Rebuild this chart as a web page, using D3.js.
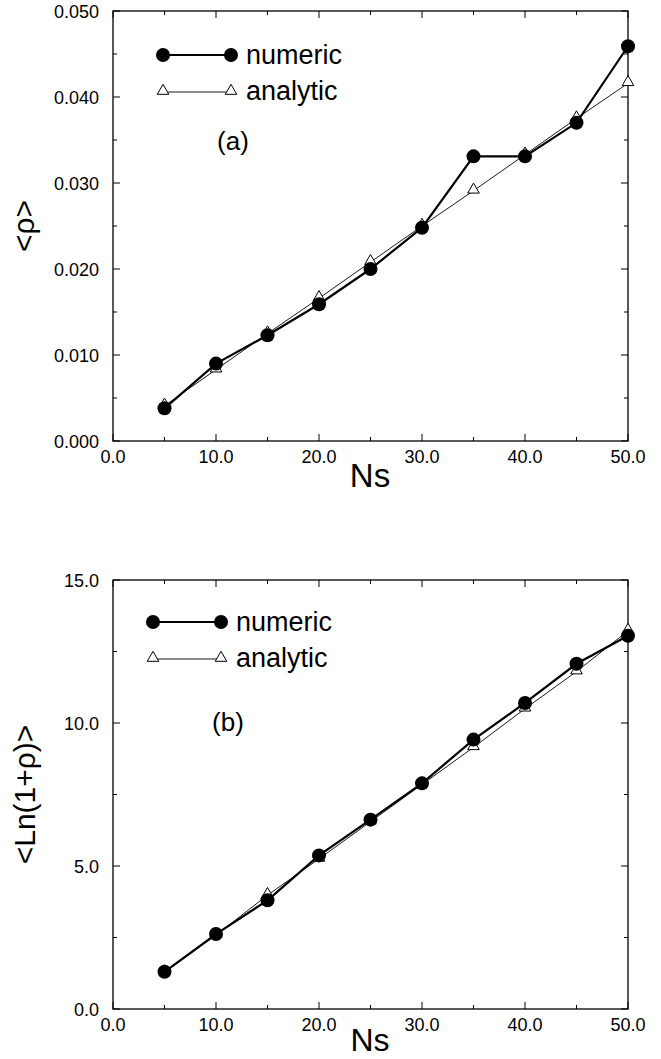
<!DOCTYPE html>
<html>
<head>
<meta charset="utf-8">
<script src="https://cdn.jsdelivr.net/npm/d3@7"></script>
<style>
  html, body { margin: 0; padding: 0; background: #fff; }
  svg { display: block; }
  text { font-family: "Liberation Sans", Arial, Helvetica, sans-serif; fill: #000; }
</style>
</head>
<body>
<svg id="chart" width="661" height="1059"></svg>
<script>
// ---------- data ----------
const ns = [5, 10, 15, 20, 25, 30, 35, 40, 45, 50];
const xTicks = [0, 10, 20, 30, 40, 50];
const xTickLabels = ["0.0", "10.0", "20.0", "30.0", "40.0", "50.0"];

const rhoNumeric  = [0.0038, 0.0090, 0.0123, 0.0159, 0.0200, 0.0248, 0.0331, 0.0331, 0.0370, 0.0459];
const rhoAnalytic = [0.0041, 0.0083, 0.0125, 0.0166, 0.0208, 0.0250, 0.0291, 0.0333, 0.0375, 0.0416];
const rhoTicks = [0, 0.01, 0.02, 0.03, 0.04, 0.05];
const rhoTickLabels = ["0.000", "0.010", "0.020", "0.030", "0.040", "0.050"];

const lnNumeric  = [1.30, 2.62, 3.80, 5.37, 6.62, 7.89, 9.42, 10.70, 12.07, 13.05];
const lnAnalytic = [1.28, 2.58, 3.98, 5.25, 6.55, 7.85, 9.15, 10.50, 11.80, 13.22];
const lnTicks = [0, 5, 10, 15];
const lnTickLabels = ["0.0", "5.0", "10.0", "15.0"];

const seriesNames = ["numeric", "analytic"];

// ---------- drawing ----------
const svg = d3.select("#chart");
const X0 = 113, X1 = 628;

function panel(opt) {
  const g = svg.append("g");
  const x = d3.scaleLinear().domain([0, 50]).range([X0, X1]);
  const y = d3.scaleLinear().domain(opt.yDomain).range([opt.bottom, opt.top]);

  // frame
  g.append("rect").attr("x", X0).attr("y", opt.top)
    .attr("width", X1 - X0).attr("height", opt.bottom - opt.top)
    .attr("fill", "none").attr("stroke", "#000").attr("stroke-width", 1.3);

  // x ticks (bottom & top, inward)
  const xMinor = d3.range(5, 50, 10);
  const xAll = xTicks.map(v => ({v, major: true})).concat(xMinor.map(v => ({v, major: false})));
  xAll.forEach(t => {
    const L = t.major ? 7 : 4;
    g.append("line").attr("x1", x(t.v)).attr("x2", x(t.v))
      .attr("y1", opt.bottom).attr("y2", opt.bottom - L).attr("stroke", "#000").attr("stroke-width", 1);
    g.append("line").attr("x1", x(t.v)).attr("x2", x(t.v))
      .attr("y1", opt.top).attr("y2", opt.top + L).attr("stroke", "#000").attr("stroke-width", 1);
  });
  xTicks.forEach((v, i) => {
    g.append("text").attr("x", x(v)).attr("y", opt.bottom + 22)
      .attr("text-anchor", "middle").attr("font-size", 18).text(xTickLabels[i]);
  });

  // y ticks (left & right, inward)
  const yMinor = opt.yMinor;
  const yAll = opt.yTicks.map(v => ({v, major: true})).concat(yMinor.map(v => ({v, major: false})));
  yAll.forEach(t => {
    const L = t.major ? 7 : 4;
    g.append("line").attr("x1", X0).attr("x2", X0 + L)
      .attr("y1", y(t.v)).attr("y2", y(t.v)).attr("stroke", "#000").attr("stroke-width", 1);
    g.append("line").attr("x1", X1).attr("x2", X1 - L)
      .attr("y1", y(t.v)).attr("y2", y(t.v)).attr("stroke", "#000").attr("stroke-width", 1);
  });
  opt.yTicks.forEach((v, i) => {
    g.append("text").attr("x", X0 - 14).attr("y", y(v) + 6.5)
      .attr("text-anchor", "end").attr("font-size", 18).text(opt.yTickLabels[i]);
  });

  // axis titles
  g.append("text").attr("x", 370).attr("y", opt.bottom + opt.nsDy)
    .attr("text-anchor", "middle").attr("font-size", opt.nsSize).text("Ns");
  g.append("text")
    .attr("transform", `translate(${opt.yLabelX},${(opt.top + opt.bottom) / 2}) rotate(-90)`)
    .attr("text-anchor", "middle").attr("font-size", 30).text(opt.yLabel);

  // panel tag
  g.append("text").attr("x", opt.tagX).attr("y", opt.tagY)
    .attr("text-anchor", "middle").attr("font-size", 26).text(opt.tag);

  const line = d3.line().x((d, i) => x(ns[i])).y(d => y(d));
  const tri = d3.symbol().type(d3.symbolTriangle).size(58);

  // analytic (thin, open triangles)
  g.append("path").attr("d", line(opt.analytic)).attr("fill", "none")
    .attr("stroke", "#000").attr("stroke-width", 0.9);
  g.selectAll(".tri").data(opt.analytic).enter().append("path")
    .attr("d", tri).attr("transform", (d, i) => `translate(${x(ns[i])},${y(d) - 1})`)
    .attr("fill", "#fff").attr("stroke", "#000").attr("stroke-width", 1);

  // numeric (thick, filled circles)
  g.append("path").attr("d", line(opt.numeric)).attr("fill", "none")
    .attr("stroke", "#000").attr("stroke-width", 2.2);
  g.selectAll(".dot").data(opt.numeric).enter().append("circle")
    .attr("cx", (d, i) => x(ns[i])).attr("cy", d => y(d)).attr("r", 7).attr("fill", "#000");

  // legend
  const lx0 = opt.legX, lx1 = opt.legX + 68;
  g.append("line").attr("x1", lx0).attr("x2", lx1).attr("y1", opt.legY).attr("y2", opt.legY)
    .attr("stroke", "#000").attr("stroke-width", 2.2);
  [lx0, lx1].forEach(px => g.append("circle").attr("cx", px).attr("cy", opt.legY).attr("r", 7).attr("fill", "#000"));
  g.append("text").attr("x", lx1 + 15).attr("y", opt.legY + 9).attr("font-size", 27).text(seriesNames[0]);

  const ly2 = opt.legY + 37;
  g.append("line").attr("x1", lx0).attr("x2", lx1).attr("y1", ly2).attr("y2", ly2)
    .attr("stroke", "#000").attr("stroke-width", 0.9);
  [lx0, lx1].forEach(px => g.append("path").attr("d", tri)
    .attr("transform", `translate(${px},${ly2 - 1})`).attr("fill", "#fff").attr("stroke", "#000").attr("stroke-width", 1));
  g.append("text").attr("x", lx1 + 15).attr("y", ly2 + 8).attr("font-size", 27).text(seriesNames[1]);
}

panel({
  top: 11, bottom: 441, yDomain: [0, 0.05],
  yTicks: rhoTicks, yTickLabels: rhoTickLabels, yMinor: [0.005, 0.015, 0.025, 0.035, 0.045],
  yLabel: "<ρ>", yLabelX: 34,
  numeric: rhoNumeric, analytic: rhoAnalytic,
  legX: 163, legY: 55, tag: "(a)", tagX: 233, tagY: 150,
  nsDy: 46, nsSize: 33
});

panel({
  top: 580, bottom: 1009, yDomain: [0, 15],
  yTicks: lnTicks, yTickLabels: lnTickLabels, yMinor: [2.5, 7.5, 12.5],
  yLabel: "<Ln(1+ρ)>", yLabelX: 35,
  numeric: lnNumeric, analytic: lnAnalytic,
  legX: 153, legY: 622, tag: "(b)", tagX: 228, tagY: 731,
  nsDy: 42, nsSize: 32
});
</script>
</body>
</html>
